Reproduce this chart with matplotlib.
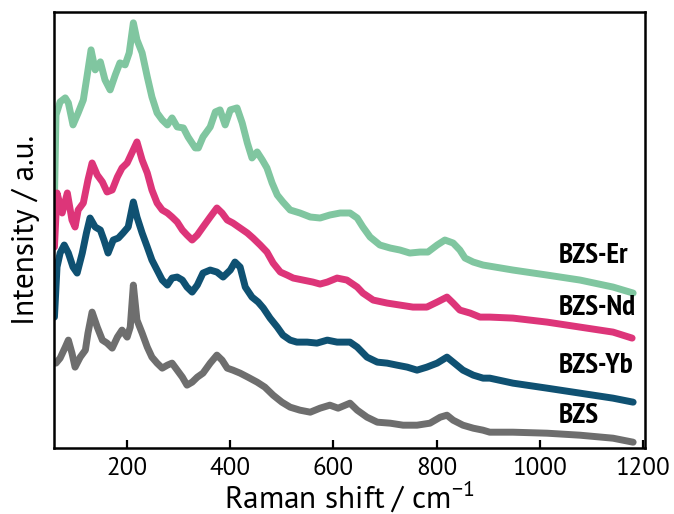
import numpy as np
import matplotlib.pyplot as plt

plt.rcParams['font.family'] = ['PT Sans', 'DejaVu Sans']

# BZS-Er (green)
x_er = [59, 62, 70, 80, 86, 95, 105, 115, 122, 130, 138, 148, 157, 167, 177, 186, 196, 204, 212, 219,
        229, 239, 248, 258, 268, 278, 287, 297, 309, 318, 332, 338, 347, 361, 371, 380, 390, 400, 413, 423,
        433, 442, 452, 462, 471, 481, 491, 502, 516, 535, 555, 574, 593, 613, 632, 646, 657, 671, 690, 710,
        729, 748, 768, 783, 801, 816, 832, 845, 855, 871, 890, 948, 1014, 1078, 1142, 1181]
y_er = [248, 333, 346, 350, 345, 323, 335, 348, 371, 398, 378, 386, 368, 358, 373, 385, 383, 395, 425, 408,
        395, 371, 351, 335, 328, 323, 330, 321, 320, 311, 300, 300, 311, 321, 336, 338, 323, 338, 340, 325,
        305, 290, 296, 288, 280, 265, 253, 246, 238, 235, 231, 230, 233, 235, 235, 230, 221, 211, 203, 200,
        198, 195, 196, 196, 203, 208, 205, 198, 190, 186, 183, 178, 173, 168, 161, 155]

# BZS-Nd (pink)
x_nd = [59, 64, 74, 84, 93, 99, 105, 115, 124, 132, 142, 152, 161, 171, 181, 190, 200, 210, 219, 229,
        239, 248, 258, 268, 278, 287, 297, 307, 316, 326, 336, 347, 361, 374, 384, 394, 405, 419, 433, 444,
        458, 471, 483, 497, 510, 522, 541, 560, 574, 588, 607, 626, 646, 657, 677, 704, 729, 754, 781, 801,
        820, 832, 845, 865, 884, 903, 948, 1014, 1078, 1142, 1179]
y_nd = [201, 255, 235, 255, 228, 221, 238, 245, 268, 285, 273, 266, 256, 258, 271, 280, 285, 296, 306, 288,
        275, 258, 245, 238, 235, 231, 226, 218, 213, 208, 213, 221, 231, 240, 235, 228, 225, 220, 215, 210,
        203, 196, 185, 176, 173, 170, 168, 166, 164, 166, 170, 168, 161, 155, 148, 145, 143, 141, 141, 146,
        151, 145, 138, 135, 131, 131, 130, 126, 121, 116, 110]

# BZS-Yb (blue)
x_yb = [59, 64, 70, 78, 86, 95, 103, 113, 121, 128, 138, 148, 155, 163, 173, 183, 192, 202, 212, 219,
        229, 239, 248, 258, 268, 278, 287, 297, 307, 316, 326, 336, 347, 361, 374, 386, 400, 409, 419, 429,
        442, 454, 464, 477, 491, 502, 516, 529, 549, 568, 588, 607, 632, 646, 665, 685, 704, 723, 743, 762,
        781, 801, 820, 832, 851, 871, 890, 903, 948, 1014, 1078, 1142, 1181]
y_yb = [131, 181, 195, 203, 195, 181, 175, 195, 215, 230, 221, 218, 208, 195, 208, 210, 215, 221, 246, 231,
        215, 201, 188, 178, 168, 163, 170, 171, 168, 161, 156, 163, 175, 178, 176, 171, 178, 186, 181, 161,
        151, 146, 140, 130, 121, 113, 108, 106, 106, 105, 108, 106, 106, 101, 91, 86, 85, 83, 81, 78,
        81, 85, 91, 86, 78, 73, 70, 70, 65, 60, 55, 50, 46]

# BZS (gray)
x_bzs = [62, 70, 80, 86, 93, 99, 109, 119, 124, 132, 142, 152, 161, 171, 181, 190, 200, 206, 212, 219,
         229, 239, 248, 258, 268, 278, 287, 297, 307, 316, 326, 336, 347, 361, 374, 384, 394, 405, 419, 434,
         452, 467, 483, 500, 516, 535, 555, 574, 593, 609, 632, 646, 665, 685, 710, 735, 762, 787, 807, 820,
         832, 851, 871, 890, 903, 948, 1014, 1078, 1142, 1181]
y_bzs = [85, 90, 101, 108, 95, 81, 91, 98, 115, 136, 121, 108, 105, 100, 111, 118, 111, 121, 163, 128,
         115, 101, 91, 85, 80, 83, 85, 78, 71, 63, 66, 71, 75, 85, 93, 88, 80, 78, 75, 71,
         66, 61, 53, 46, 41, 38, 36, 40, 43, 40, 45, 38, 31, 26, 25, 23, 23, 25, 31, 33,
         28, 23, 20, 18, 16, 16, 15, 13, 10, 6]

names = ['BZS-Er', 'BZS-Nd', 'BZS-Yb', 'BZS']
colors = ['#80c6a0', '#dd3579', '#0f5172', '#6e6e6e']
label_y = [192, 140, 82, 32]
xs = [x_er, x_nd, x_yb, x_bzs]
ys = [y_er, y_nd, y_yb, y_bzs]

fig = plt.figure(figsize=(6.74, 5.14), dpi=100)
ax = fig.add_axes([0.080, 0.128, 0.877, 0.849])

for x, y, c in zip(xs, ys, colors):
    ax.plot(x, y, color=c, lw=5, solid_joinstyle='round', solid_capstyle='round')

for name, ly in zip(names, label_y):
    ax.text(1037, ly, name, fontsize=21, fontweight='bold', va='center', ha='left',
            family=['PT Sans Narrow', 'DejaVu Sans'])

ax.set_xlim(58, 1204)
ax.set_ylim(0, 436)
ax.set_xticks([200, 400, 600, 800, 1000, 1200])
ax.set_yticks([])
ax.tick_params(axis='x', direction='in', length=6, width=1.6, labelsize=18, pad=6)
for s in ax.spines.values():
    s.set_linewidth(1.8)

ax.set_xlabel(r'Raman shift / cm$^{\mathregular{-1}}$', fontsize=22.5, labelpad=0)
ax.set_ylabel('Intensity / a.u.', fontsize=22.5, labelpad=10)

fig.savefig('out.png', dpi=100)
